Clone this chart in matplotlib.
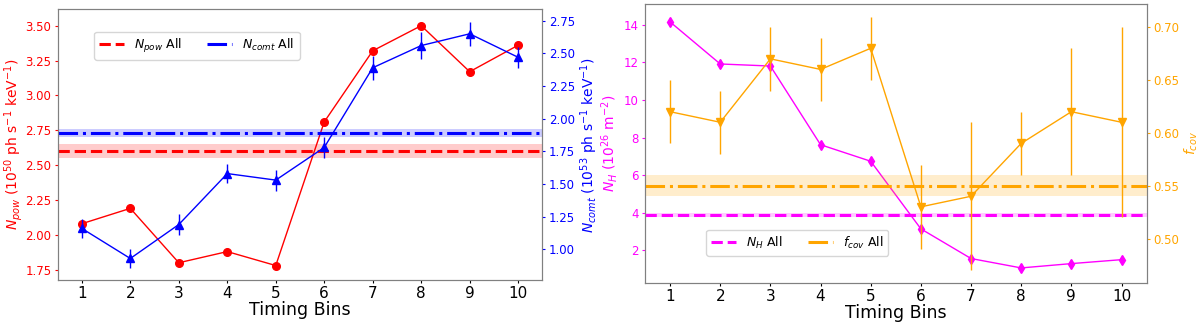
import numpy as np
import matplotlib.pyplot as plt

bins = np.arange(1, 11)

npow = [2.08, 2.19, 1.80, 1.88, 1.78, 2.81, 3.32, 3.50, 3.17, 3.36]
npow_all = 2.60
npow_all_err = 0.05

ncomt = [1.16, 0.93, 1.19, 1.58, 1.53, 1.78, 2.39, 2.56, 2.65, 2.47]
ncomt_err = [0.07, 0.07, 0.08, 0.07, 0.08, 0.08, 0.09, 0.10, 0.09, 0.08]
ncomt_all = 1.89
ncomt_all_err = 0.03

nh = [14.16, 11.92, 11.81, 7.62, 6.74, 3.14, 1.56, 1.06, 1.29, 1.50]
nh_err = [0.2, 0.2, 0.2, 0.2, 0.2, 0.2, 0.2, 0.2, 0.2, 0.2]
nh_all = 3.87
nh_all_err = 0.1

fcov = [0.62, 0.61, 0.67, 0.66, 0.68, 0.53, 0.54, 0.59, 0.62, 0.61]
fcov_err = [0.03, 0.03, 0.03, 0.03, 0.03, 0.04, 0.07, 0.03, 0.06, 0.09]
fcov_all = 0.55
fcov_all_err = 0.01

plt.rcParams['axes.edgecolor'] = 'grey'
plt.rcParams['xtick.major.size'] = 2.5
plt.rcParams['ytick.major.size'] = 2.5
plt.rcParams['xtick.major.pad'] = 2
plt.rcParams['ytick.major.pad'] = 2
fig = plt.figure(figsize=(12, 3.23), dpi=100)

# left panel: normalisations
ax1 = fig.add_axes([0.048, 0.133, 0.404, 0.838])
ax2 = ax1.twinx()
ax1.plot(bins, npow, 'o-', color='red', ms=5.5, lw=1)
l1 = ax1.axhline(npow_all, color='red', ls='--', lw=2.2, label=r'$N_{pow}$ All')
ax1.axhspan(npow_all - npow_all_err, npow_all + npow_all_err, color='red', alpha=0.2, lw=0)
ax2.errorbar(bins, ncomt, yerr=ncomt_err, fmt='^-', color='blue', ms=5.5, lw=1)
l2 = ax2.axhline(ncomt_all, color='blue', ls='-.', lw=2.2, label=r'$N_{comt}$ All')
ax2.axhspan(ncomt_all - ncomt_all_err, ncomt_all + ncomt_all_err, color='blue', alpha=0.2, lw=0)
ax1.set_xlim(0.5, 10.5)
ax1.set_ylim(1.676, 3.617)
ax2.set_ylim(0.765, 2.837)
ax1.set_xticks(bins)
ax1.tick_params(axis='x', labelsize=11)
ax1.tick_params(axis='y', colors='red', labelsize=8.5)
ax2.tick_params(axis='y', colors='blue', labelsize=8.5)
for s in ax2.spines.values():
    s.set_edgecolor('grey')
ax1.set_xlabel('Timing Bins', fontsize=12.5, labelpad=0)
ax1.set_ylabel(r'$N_{pow}$ (10$^{50}$ ph s$^{-1}$ keV$^{-1}$)', color='red', fontsize=10)
ax2.set_ylabel(r'$N_{comt}$ (10$^{53}$ ph s$^{-1}$ keV$^{-1}$)', color='blue', fontsize=10)
ax1.yaxis.set_label_coords(-0.068, 0.5)
ax2.yaxis.set_label_coords(1.075, 0.5)
ax1.legend(handles=[l1, l2], ncol=2, loc='upper left', bbox_to_anchor=(0.063, 0.94),
           fontsize=9, columnspacing=2.0)

# right panel: absorption
ax3 = fig.add_axes([0.5375, 0.124, 0.418, 0.864])
ax4 = ax3.twinx()
ax3.errorbar(bins, nh, yerr=nh_err, fmt='d-', color='magenta', ms=5.5, lw=1)
l3 = ax3.axhline(nh_all, color='magenta', ls='--', lw=2.2, label=r'$N_H$ All')
ax3.axhspan(nh_all - nh_all_err, nh_all + nh_all_err, color='magenta', alpha=0.2, lw=0)
ax4.errorbar(bins, fcov, yerr=fcov_err, fmt='v-', color='orange', ms=5.5, lw=1)
l4 = ax4.axhline(fcov_all, color='orange', ls='-.', lw=2.2, label=r'$f_{cov}$ All')
ax4.axhspan(fcov_all - fcov_all_err, fcov_all + fcov_all_err, color='orange', alpha=0.2, lw=0)
ax3.set_xlim(0.5, 10.5)
ax3.set_ylim(0.26, 15.12)
ax4.set_ylim(0.458, 0.722)
ax3.set_xticks(bins)
ax3.tick_params(axis='x', labelsize=11)
ax3.tick_params(axis='y', colors='magenta', labelsize=8.5)
ax4.tick_params(axis='y', colors='orange', labelsize=8.5)
for s in ax4.spines.values():
    s.set_edgecolor('grey')
ax3.set_xlabel('Timing Bins', fontsize=12.5, labelpad=0)
ax3.set_ylabel(r'$N_H$ (10$^{26}$ m$^{-2}$)', color='magenta', fontsize=10)
ax4.set_ylabel(r'$f_{cov}$', color='orange', fontsize=10)
ax3.yaxis.set_label_coords(-0.05, 0.5)
ax4.yaxis.set_label_coords(1.072, 0.5)
ax3.legend(handles=[l3, l4], ncol=2, loc='lower left', bbox_to_anchor=(0.11, 0.075),
           fontsize=9, columnspacing=2.0)

plt.savefig('out.png', dpi=100)
plt.close()
